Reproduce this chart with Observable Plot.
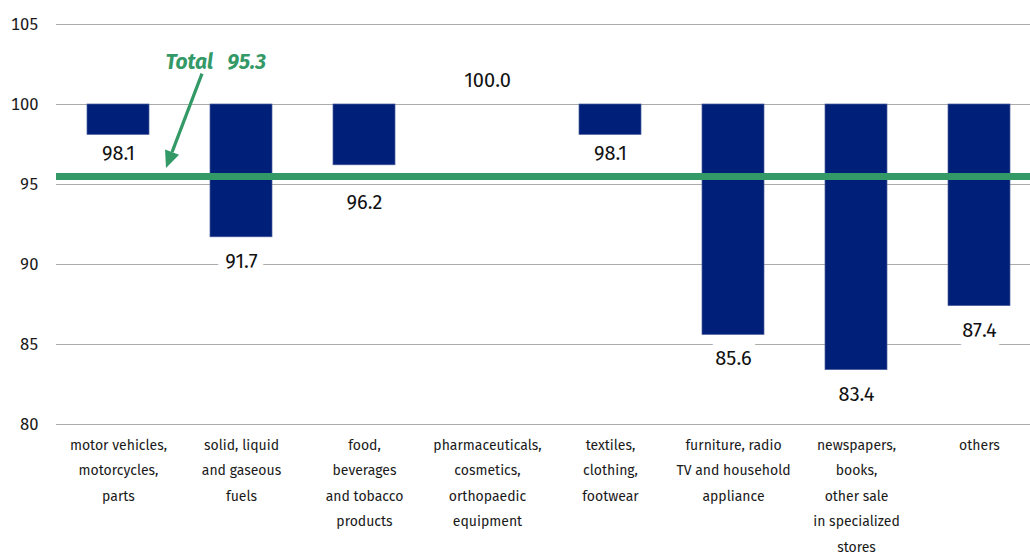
<!DOCTYPE html>
<html><head><meta charset="utf-8">
<script src="https://cdn.jsdelivr.net/npm/d3@7"></script>
<script src="https://cdn.jsdelivr.net/npm/@observablehq/plot@0.6"></script>
<style>
html,body{margin:0;padding:0;background:#fff;}
#chart{width:1030px;height:554px;overflow:hidden;}
</style>
</head><body><div id="chart"></div>
<script>
const categories = ["motor vehicles", "fuels", "food", "pharmaceuticals", "textiles", "furniture", "newspapers", "others"];
const categoryLabels = [
  "motor vehicles,\nmotorcycles,\nparts",
  "solid, liquid\nand gaseous\nfuels",
  "food,\nbeverages\nand tobacco\nproducts",
  "pharmaceuticals,\ncosmetics,\northopaedic\nequipment",
  "textiles,\nclothing,\nfootwear",
  "furniture, radio\nTV and household\nappliance",
  "newspapers,\nbooks,\nother sale\nin specialized\nstores",
  "others"
];
const values = [98.1, 91.7, 96.2, 100.0, 98.1, 85.6, 83.4, 87.4];
const baseline = 100;
const totalValue = 95.3;
const totalLineLevel = 95.5;
const yTicks = [80, 85, 90, 95, 100, 105];

const NAVY = "#001f78";
const GREEN = "#339966";
const FONT = "'Fira Sans', 'Open Sans', sans-serif";

const labelOf = new Map(categories.map((c, i) => [c, categoryLabels[i]]));

// label placement (data units): outside the bar end; avoid the total line
const off = 1.5, half = 0.65, clear = 0.4, lineHalf = 0.22;
function labelY(v) {
  if (v >= baseline) return v + off;
  let c = v - off;
  const top = totalLineLevel + lineHalf + clear, bot = totalLineLevel - lineHalf - clear;
  if (c - half < top && c + half > bot) {
    const gap = v - (totalLineLevel + lineHalf);
    if (gap > 2 * half + 0.3) c = (v + totalLineLevel + lineHalf) / 2;
    else c = totalLineLevel - 1.65;
  }
  return c;
}

const data = categories.map((c, i) => ({cat: c, value: values[i], ly: labelY(values[i])}));

const plot = Plot.plot({
  width: 1030,
  height: 554,
  marginLeft: 56,
  marginRight: 0,
  marginTop: 24,
  marginBottom: 130,
  style: {fontFamily: FONT, fontSize: "14px", color: "#1a1a1a", background: "#fff"},
  x: {domain: categories, range: [55.5, 1040.5], paddingInner: 0.5, paddingOuter: 0.25},
  y: {domain: [80, 105]},
  marks: [
    Plot.ruleY(yTicks, {stroke: "#ababab", strokeWidth: 1}),
    Plot.barY(data, {x: "cat", y1: baseline, y2: "value", fill: NAVY, stroke: "#4a5c9c", strokeWidth: 0.7}),
    Plot.text(data, {x: "cat", y: "ly", text: d => d.value.toFixed(1), fontSize: 20, fill: "#111",
      stroke: "white", strokeWidth: 18, strokeLinejoin: "round"}),
    Plot.ruleY([totalLineLevel], {stroke: GREEN, strokeWidth: 7}),
    Plot.text([totalValue], {x: () => categories[0], y: () => 102.64, dx: 47, textAnchor: "start",
      text: d => "Total\u00a0\u00a0\u00a0" + d.toFixed(1), fill: GREEN, fontSize: 21, fontWeight: "bold", fontStyle: "italic"}),
    Plot.axisY({ticks: yTicks, tickSize: 0, tickPadding: 18, fontSize: 16.5, label: null}),
    Plot.axisX({tickSize: 0, tickPadding: 7, fontSize: 14, lineHeight: 1.82, label: null,
      tickFormat: d => labelOf.get(d)})
  ]
});

document.getElementById("chart").appendChild(plot);

// annotation arrow, positioned through the plot's scales
const sx = plot.scale("x"), sy = plot.scale("y");
const cx0 = sx.apply(categories[0]) + sx.bandwidth / 2;
const tip = [cx0 + 48, sy.apply(totalLineLevel) - 8];
const start = [cx0 + 84, sy.apply(101.9)];
const ang = Math.atan2(tip[1] - start[1], tip[0] - start[0]);
const headLen = 17, headHalf = 7.5;
const base = [tip[0] - headLen * Math.cos(ang), tip[1] - headLen * Math.sin(ang)];
const px = -Math.sin(ang), py = Math.cos(ang);
const svg = d3.select(plot);
const g = svg.append("g");
g.append("line").attr("x1", start[0]).attr("y1", start[1]).attr("x2", base[0]).attr("y2", base[1])
  .attr("stroke", GREEN).attr("stroke-width", 3.2);
g.append("path").attr("d", `M${tip[0]},${tip[1]}L${base[0] + px * headHalf},${base[1] + py * headHalf}L${base[0] - px * headHalf},${base[1] - py * headHalf}Z`)
  .attr("fill", GREEN);
</script>
</body></html>
